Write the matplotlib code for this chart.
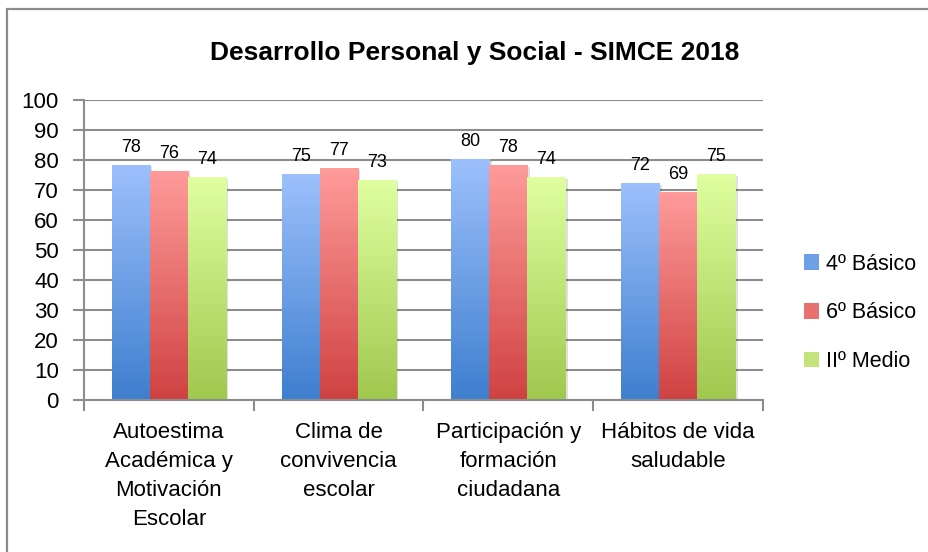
import numpy as np
import matplotlib
matplotlib.use('Agg')
import matplotlib.pyplot as plt
import matplotlib.transforms as mtransforms
from matplotlib.patches import Patch, Rectangle
from matplotlib.colors import to_rgb

plt.rcParams['font.family'] = ['Liberation Sans Narrow', 'Liberation Sans', 'DejaVu Sans']

# Data
categories = ['Autoestima\nAcadémica y\nMotivación\nEscolar',
              'Clima de\nconvivencia\nescolar',
              'Participación y\nformación\nciudadana',
              'Hábitos de vida\nsaludable']
series_names = ['4º Básico', '6º Básico', 'IIº Medio']
basico_4 = [78, 75, 80, 72]
basico_6 = [76, 77, 78, 69]
medio_2 = [74, 73, 74, 75]
y_ticks = list(range(0, 101, 10))

# Gradient colours (top, bottom) per series
gradients = [('#9cc0fc', '#3f7fcf'),
             ('#ff9b9b', '#d04242'),
             ('#dfffa0', '#a0c84e')]
legend_colors = ['#6f9fe6', '#e87070', '#c4e47a']


def gradient_bar(ax, x0, width, height, top, bottom):
    # Shadow behind bar
    shadow = mtransforms.offset_copy(ax.transData, fig=ax.figure, x=2.5, y=-1.5, units='dots')
    ax.add_patch(Rectangle((x0, 0), width, height, color='black', alpha=0.12,
                           transform=shadow, zorder=2, lw=0))
    n = 256
    t = np.linspace(0, 1, n)[:, None]
    c_top = np.array(to_rgb(top))
    c_bot = np.array(to_rgb(bottom))
    img = c_bot + (c_top - c_bot) * t
    img = img[:, None, :]
    ax.imshow(img, extent=[x0, x0 + width, 0, height], origin='lower',
              aspect='auto', zorder=3, interpolation='bilinear')


fig = plt.figure(figsize=(9.29, 5.52), dpi=100)
ax = fig.add_axes([84 / 929, (552 - 399.5) / 552, (763 - 84) / 929, 300 / 552])

# Outer chart border
fig.add_artist(Rectangle((7 / 929, -0.05), 1.1, (552 - 9) / 552 + 0.05,
                         transform=fig.transFigure, fill=False,
                         edgecolor='#8c8c8c', lw=1.6))

x = np.arange(len(categories))
width = 0.224
all_series = [basico_4, basico_6, medio_2]
for i, values in enumerate(all_series):
    offset = (i - 1) * width
    for xi, v in zip(x, values):
        gradient_bar(ax, xi + offset - width / 2, width, v, *gradients[i])
        ax.annotate(str(v), (xi + offset, v), xytext=(0, 7),
                    textcoords='offset points', ha='center', va='bottom',
                    fontsize=13)

ax.set_xlim(-0.5, len(categories) - 0.5)
ax.set_ylim(0, 100)
ax.set_yticks(y_ticks)
ax.yaxis.grid(True, color='#8c8c8c', lw=1.5)
ax.set_axisbelow(True)
ax.tick_params(axis='y', length=8, width=1.5, color='#8c8c8c', labelsize=16, pad=10)

# Category labels centred, tick marks at boundaries
ax.set_xticks(x)
ax.set_xticklabels(categories, fontsize=16, linespacing=1.5)
ax.tick_params(axis='x', which='major', length=0, pad=16)
ax.set_xticks(np.arange(len(categories) + 1) - 0.5, minor=True)
ax.tick_params(axis='x', which='minor', length=8, width=1.5, color='#8c8c8c')

for side in ['top', 'right']:
    ax.spines[side].set_visible(False)
for side in ['left', 'bottom']:
    ax.spines[side].set_color('#8c8c8c')
    ax.spines[side].set_linewidth(1.5)

fig.text(0.511, 0.904, 'Desarrollo Personal y Social - SIMCE 2018',
         ha='center', va='center', fontsize=19, fontweight='bold')

handles = [Patch(facecolor=c, edgecolor='none') for c in legend_colors]
fig.legend(handles, series_names, loc='center left',
           bbox_to_anchor=(804 / 929, (552 - 313) / 552), frameon=False,
           fontsize=15.5, handlelength=0.7, handleheight=0.7,
           handletextpad=0.3, labelspacing=1.3, borderpad=0,
           borderaxespad=0)

fig.savefig('out.png', dpi=100)
